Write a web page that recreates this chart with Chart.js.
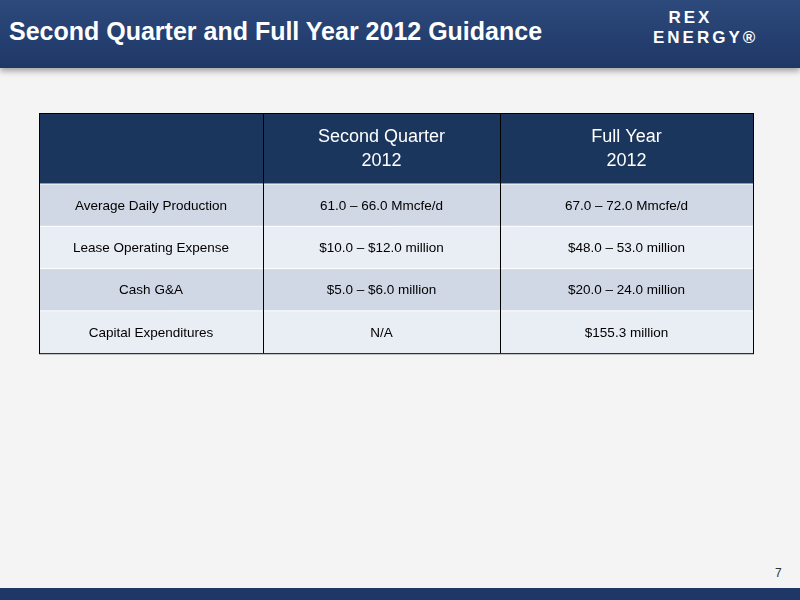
<!DOCTYPE html><html><head><meta charset="utf-8">
<script src="https://cdn.jsdelivr.net/npm/chart.js@4/dist/chart.umd.min.js"></script>
<style>
body{margin:0;width:800px;height:600px;background:#f4f4f4;position:relative;overflow:hidden;font-family:Arial,"Liberation Sans",sans-serif}
#top{position:absolute;left:0;top:0;width:800px;height:68px;background:linear-gradient(#2d4a7c,#1e3766);box-shadow:0 3px 6px rgba(0,0,0,.35)}
#title{position:absolute;left:9px;top:17px;color:#fff;font-weight:bold;font-size:25px}
#logo{position:absolute;left:653px;top:8px;color:#fff;font-weight:bold;font-size:17px;line-height:20px;letter-spacing:3px}
#bot{position:absolute;left:0;top:588px;width:800px;height:12px;background:#1e3766}
#pg{position:absolute;left:775px;top:566px;font-size:12px;color:#333}
#wrap{position:absolute;left:38px;top:112px;width:716px;height:243px}
</style></head><body>
<div id="top"><div id="title">Second Quarter and Full Year 2012 Guidance</div>
<div id="logo">&nbsp;&nbsp;REX<br>ENERGY®</div></div>
<div id="wrap"><canvas id="c"></canvas></div>
<div id="pg">7</div><div id="bot"></div>
<script>
const headers=["","Second Quarter\n2012","Full Year\n2012"];
const rowLabels=["Average Daily Production","Lease Operating Expense","Cash G&A","Capital Expenditures"];
const q2Values=["61.0 – 66.0 Mmcfe/d","$10.0 – $12.0 million","$5.0 – $6.0 million","N/A"];
const fyValues=["67.0 – 72.0 Mmcfe/d","$48.0 – 53.0 million","$20.0 – 24.0 million","$155.3 million"];
const colEdges=[0,224,461,714];
const tablePlugin={id:'tbl',afterDraw(ch){
 const c=ch.ctx,a=ch.chartArea,L=a.left+1,T=a.top+1;
 const hH=71,rH=42.3;
 c.save();
 c.fillStyle='#1b365d';c.fillRect(L,T,714,hH);
 c.textAlign='center';c.textBaseline='middle';
 c.fillStyle='#fff';c.font='18px "Liberation Sans",Arial';
 for(let j=1;j<3;j++){const cx=L+(colEdges[j]+colEdges[j+1])/2;headers[j].split('\n').forEach((t,k)=>c.fillText(t,cx,T+24+k*24));}
 rowLabels.forEach((lab,i)=>{const y=T+hH+i*rH;
  c.fillStyle=i%2?'#e9edf4':'#d0d7e5';c.fillRect(L,y,714,rH);
  c.fillStyle='#000';c.font='13.5px "Liberation Sans",Arial';
  [lab,q2Values[i],fyValues[i]].forEach((t,j)=>c.fillText(t,L+(colEdges[j]+colEdges[j+1])/2,y+rH/2+1));
  c.strokeStyle='#fff';c.lineWidth=1;c.beginPath();c.moveTo(L,y);c.lineTo(L+714,y);c.stroke();
 });
 c.strokeStyle='#000';c.lineWidth=1;
 c.beginPath();colEdges.forEach(x=>{c.moveTo(L+x+.5,T);c.lineTo(L+x+.5,T+hH+4*rH);});c.stroke();
 c.strokeRect(L+.5,T+.5,714,hH+4*rH);
 c.restore();}};
new Chart(document.getElementById('c'),{type:'bar',data:{labels:rowLabels,datasets:[{data:[]}]},
 options:{responsive:true,maintainAspectRatio:false,animation:false,layout:{padding:0},
 plugins:{legend:{display:false},tooltip:{enabled:false}},scales:{x:{display:false},y:{display:false}}},plugins:[tablePlugin]});
</script></body></html>
